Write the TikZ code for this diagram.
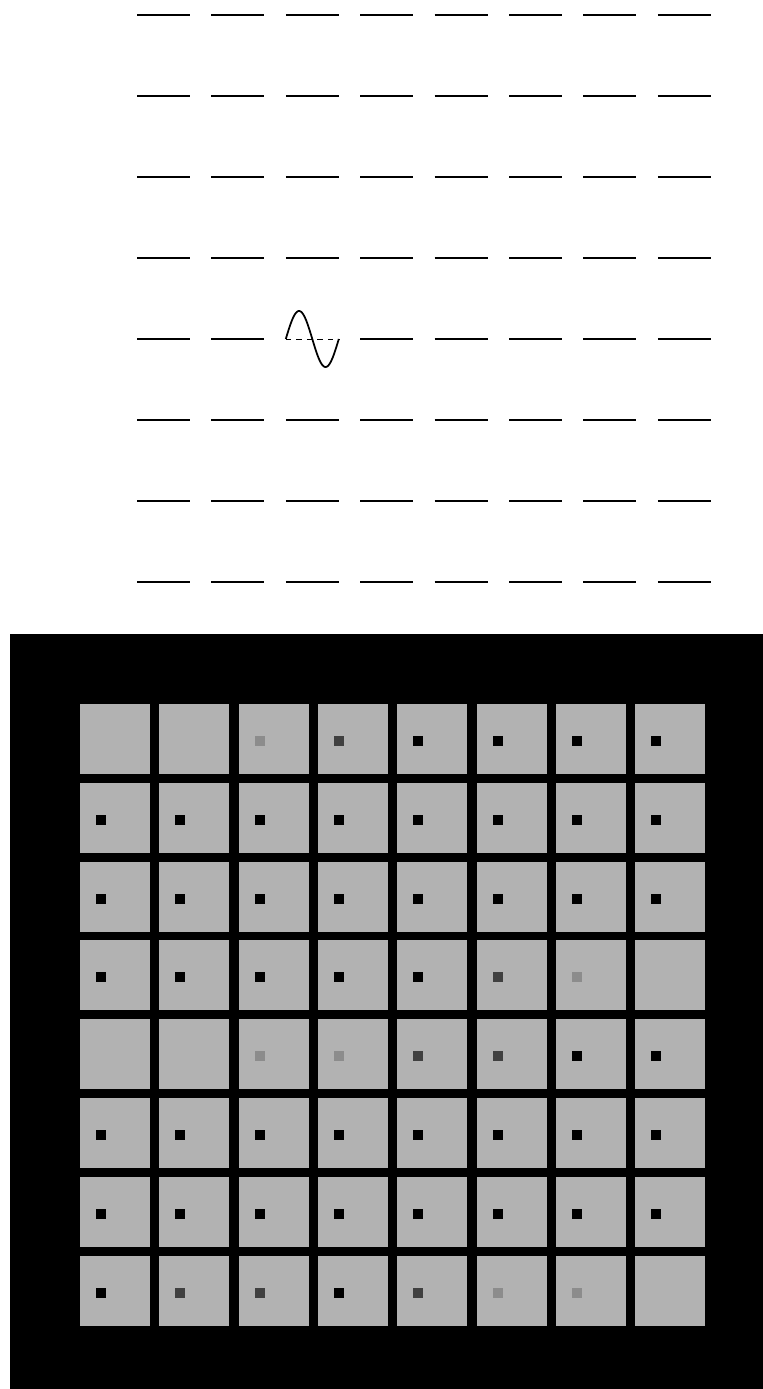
\documentclass[tikz,border=0pt]{standalone}
\usepackage{tikz}

\begin{document}
\begin{tikzpicture}[x=0.02cm, y=-0.02cm,
    trace/.style={line width=1.1pt},
    cell/.style={fill=black!30}]
  \useasboundingbox (0,0) rectangle (763,1389);
  % upper panel: 8 x 8 flat traces
  \foreach \r in {1,...,8} {
    \foreach \c in {1,...,8} {
      \pgfmathsetmacro\xa{137+74.4*(\c-1)}
      \pgfmathsetmacro\yy{15+81*(\r-1)}
      \ifnum\numexpr10*\r+\c\relax=53 \else
        \draw[trace] (\xa,\yy) -- ++(53,0);
      \fi
    }
  }
  % the one trace that oscillates (row 5, column 3)
  \coordinate (osc) at (285.8,339);
  \draw[line width=0.5pt, dash pattern=on 3pt off 3pt] (osc) -- ++(53,0);
  \draw[line width=1pt] plot[domain=0:360, samples=80]
    ({285.8+0.14722*\x}, {339-28*sin(\x)});
  % lower panel: black background
  \fill (10,634) rectangle (763,1389);
  % gray cells with a dark dot of varying strength
  \foreach \r/\lv in {1/{0,0,1,2,3,3,3,3}, 2/{3,3,3,3,3,3,3,3},
                      3/{3,3,3,3,3,3,3,3}, 4/{3,3,3,3,3,2,1,0},
                      5/{0,0,1,1,2,2,3,3}, 6/{3,3,3,3,3,3,3,3},
                      7/{3,3,3,3,3,3,3,3}, 8/{3,2,2,3,2,1,1,0}} {
    \foreach \l [count=\c] in \lv {
      \pgfmathsetmacro\xa{80+79.3*(\c-1)}
      \pgfmathsetmacro\ya{704+78.8*(\r-1)}
      \fill[cell] (\xa,\ya) rectangle ++(70,70);
      \ifnum\l>0
        \pgfmathtruncatemacro\pc{{0,45,75,100}[\l]}
        \fill[black!\pc] (\xa+16,\ya+32) rectangle ++(10,10);
      \fi
    }
  }
\end{tikzpicture}
\end{document}
